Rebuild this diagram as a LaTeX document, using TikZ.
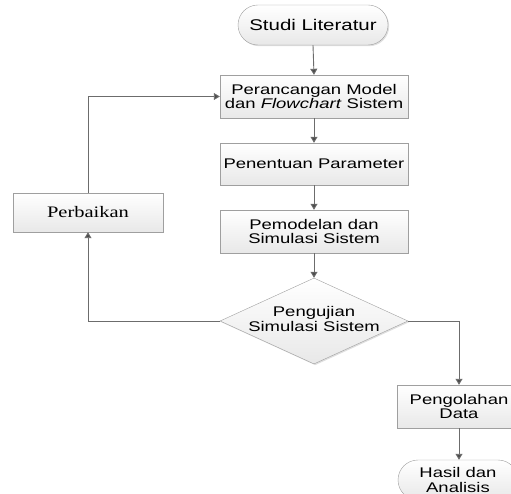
\documentclass[tikz,border=0pt]{standalone}
\usepackage{fontspec}
\setmainfont[FakeStretch=1.32]{Liberation Sans}
\newfontfamily\serifx[FakeStretch=1.28]{Liberation Serif}
\usetikzlibrary{shapes.geometric,arrows.meta,shadows}
\begin{document}
\begin{tikzpicture}[x=1pt,y=-1pt,
  box/.style={draw=gray!75, top color=white, bottom color=gray!18,
    drop shadow={shadow xshift=1.2pt, shadow yshift=-1.2pt, opacity=0.25},
    minimum width=188pt, minimum height=43pt, inner sep=1pt, align=center,
    font=\fontsize{14}{14.5}\selectfont, text=black},
  term/.style={box, rounded corners=20pt},
  conn/.style={draw=gray!85!black, line width=0.9pt,
    -{Triangle[width=7pt,length=6pt,fill=black!70]}},
  lbl/.style={align=center, font=\fontsize{14}{14.5}\selectfont, text=black}]
\useasboundingbox (0,0) rectangle (511,494);
\clip (0,0) rectangle (511,494);

\node[term, minimum width=150pt, minimum height=40pt, font=\fontsize{15.5}{16}\selectfont] (studi) at (313,25) {Studi Literatur};
\node[box] (peran) at (314,96.5) {Perancangan Model\\dan \textit{Flowchart} Sistem};
\node[box, minimum height=42pt] (penen) at (314,164) {Penentuan Parameter};
\node[box] (pemod) at (314,231.5) {Pemodelan dan\\Simulasi Sistem};
\node[draw=gray!75, top color=white, bottom color=gray!18, shape=diamond,
  drop shadow={shadow xshift=1.2pt, shadow yshift=-1.2pt, opacity=0.25},
  minimum width=188pt, minimum height=86pt, inner sep=0pt] (dia) at (314,321) {};
\node[lbl] (dialbl) at (314,319) {Pengujian\\Simulasi Sistem};
\node[box, minimum width=150pt, minimum height=39pt, font=\serifx\fontsize{16}{17}\selectfont] (perb) at (88,212.5) {Perbaikan};
\node[box, minimum width=124pt] (pengol) at (459,406.5) {Pengolahan\\Data};
\node[term, minimum width=120pt, minimum height=40pt] (hasil) at (458,480) {Hasil dan\\Analisis};

\draw[conn] (studi.south) -- (peran.north);
\draw[conn] (peran.south) -- (penen.north);
\draw[conn] (penen.south) -- (pemod.north);
\draw[conn] (pemod.south) -- (dia.north);
\draw[conn] (dia.west) -| (perb.south);
\draw[conn] (perb.north) |- (peran.west);
\draw[conn] (dia.east) -| (pengol.north);
\draw[conn] (pengol.south) -- (pengol.south |- hasil.north);
\end{tikzpicture}
\end{document}
